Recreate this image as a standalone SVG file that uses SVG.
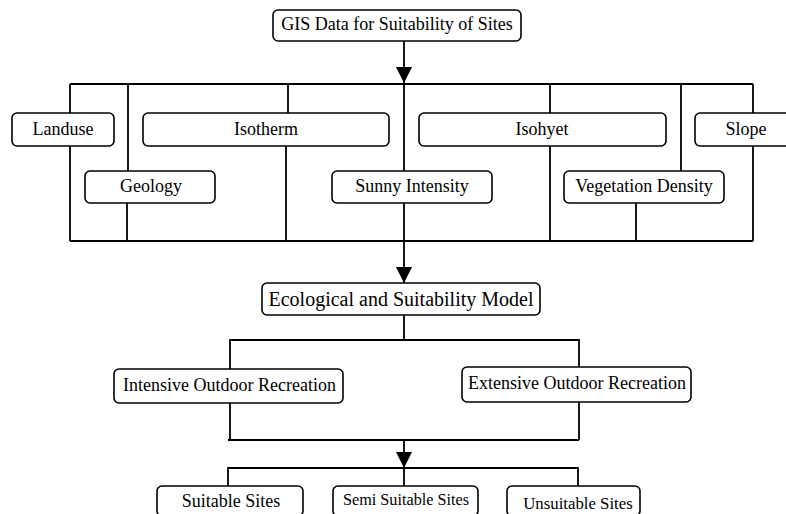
<svg xmlns="http://www.w3.org/2000/svg" width="786" height="514" viewBox="0 0 786 514">
<defs>
<style>
.box{fill:#fff;stroke:#000;stroke-width:1.6}
.t{font-family:"Liberation Serif","Times New Roman",serif;font-size:18px;fill:#000;text-anchor:middle}
.ln{fill:none;stroke:#000;stroke-width:1.8}
</style>
<marker id="ah" markerUnits="userSpaceOnUse" markerWidth="18" markerHeight="18" refX="16" refY="8" orient="auto">
<path d="M0,0 L16,8 L0,16 Z" fill="#000"/>
</marker>
</defs>
<rect width="786" height="514" fill="#fff"/>
<g id="connectors">
<path class="ln" d="M404,41 V83" marker-end="url(#ah)"/>
<path class="ln" d="M70,84 H753"/>
<path class="ln" d="M70,84 V241 M128,84 V171 M288,84 V113 M404,84 V241 M550,84 V113 M681,84 V171 M753,84 V241"/>
<path class="ln" d="M127,203 V241 M286,146 V241 M550,146 V241 M636,203 V241"/>
<path class="ln" d="M70,241 H753"/>
<path class="ln" d="M404,241 V283" marker-end="url(#ah)"/>
<path class="ln" d="M404,315 V340 M230,369 V340 H579 V367"/>
<path class="ln" d="M230,403 V440 M579,402 V440 M228,440 H579"/>
<path class="ln" d="M404,440 V468" marker-end="url(#ah)"/>
<path class="ln" d="M228,486 V468 H578 V486 M404,468 V486"/>
</g>
<g id="gis"><rect class="box" x="273" y="10" width="248" height="31" rx="5"/><text class="t" x="397" y="30">GIS Data for Suitability of Sites</text></g>
<g id="landuse"><rect class="box" x="12" y="113" width="102" height="33" rx="5"/><text class="t" x="63" y="135">Landuse</text></g>
<g id="isotherm"><rect class="box" x="143" y="113" width="246" height="33" rx="5"/><text class="t" x="266" y="135">Isotherm</text></g>
<g id="isohyet"><rect class="box" x="419" y="113" width="247" height="33" rx="5"/><text class="t" x="542" y="135">Isohyet</text></g>
<g id="slope"><rect class="box" x="695" y="113" width="105" height="33" rx="5"/><text class="t" x="746" y="135">Slope</text></g>
<g id="geology"><rect class="box" x="85" y="171" width="130" height="32" rx="5"/><text class="t" x="151" y="192">Geology</text></g>
<g id="sunny"><rect class="box" x="332" y="171" width="160" height="32" rx="5"/><text class="t" x="412" y="192">Sunny Intensity</text></g>
<g id="vegetation"><rect class="box" x="564" y="171" width="160" height="32" rx="5"/><text class="t" x="644" y="192">Vegetation Density</text></g>
<g id="model"><rect class="box" x="262" y="283" width="278" height="32" rx="5"/><text class="t" x="401" y="306" style="font-size:20px">Ecological and Suitability Model</text></g>
<g id="intensive"><rect class="box" x="114" y="369" width="229" height="34" rx="5"/><text class="t" x="229.5" y="391">Intensive Outdoor Recreation</text></g>
<g id="extensive"><rect class="box" x="462" y="367" width="229" height="35" rx="5"/><text class="t" x="577" y="389">Extensive Outdoor Recreation</text></g>
<g id="suitable"><rect class="box" x="157" y="486" width="146" height="30" rx="5"/><text class="t" x="231" y="507">Suitable Sites</text></g>
<g id="semi"><rect class="box" x="333" y="486" width="145" height="30" rx="5"/><text class="t" x="406" y="505" style="font-size:16.2px">Semi Suitable Sites</text></g>
<g id="unsuitable"><rect class="box" x="507" y="486" width="133" height="30" rx="5"/><text class="t" x="578" y="509" style="font-size:16.8px">Unsuitable Sites</text></g>
</svg>
